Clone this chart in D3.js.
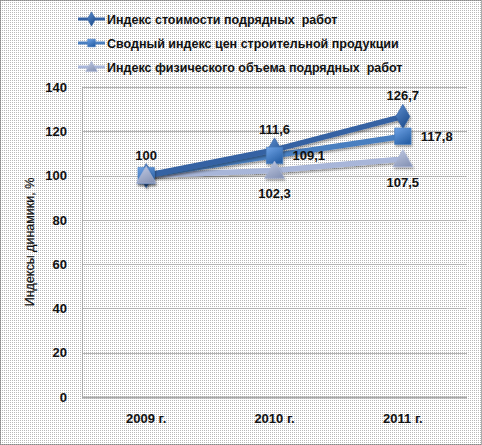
<!DOCTYPE html>
<html>
<head>
<meta charset="utf-8">
<script src="https://cdn.jsdelivr.net/npm/d3@7"></script>
<style>
  body { margin: 0; background: #fff; }
  svg text { font-family: "Liberation Sans", Arial, sans-serif; }
</style>
</head>
<body>
<div id="chart"></div>
<script>
// chart data
let years = ["2009 г.", "2010 г.", "2011 г."];
let costIndex = [100, 111.6, 126.7];
let priceIndex = [100, 109.1, 117.8];
let volumeIndex = [100, 102.3, 107.5];
let costLabels = ["100", "111,6", "126,7"];
let priceLabels = ["", "109,1", "117,8"];
let volumeLabels = ["", "102,3", "107,5"];
let yTicks = [0, 20, 40, 60, 80, 100, 120, 140];
let seriesNames = [
    "Индекс стоимости подрядных  работ",
    "Сводный индекс цен строительной продукции",
    "Индекс физического объема подрядных  работ"
];

let W = 482, H = 445;
let margin = {top: 87, right: 15, bottom: 48, left: 82};
let width = W - margin.left - margin.right;
let height = H - margin.top - margin.bottom;

let root = d3.select("#chart").append("svg")
    .attr("width", W)
    .attr("height", H);

let defs = root.append("defs");

// dotted background like the original picture
let pat = defs.append("pattern")
    .attr("id", "dots")
    .attr("width", 2).attr("height", 2)
    .attr("patternUnits", "userSpaceOnUse");
pat.append("rect").attr("width", 2).attr("height", 2).attr("fill", "#ffffff");
pat.append("rect").attr("width", 1).attr("height", 1).attr("fill", "#b8b8b8");

function grad(id, c1, c2) {
    let g = defs.append("linearGradient").attr("id", id)
        .attr("x1", 0).attr("y1", 0).attr("x2", 0.6).attr("y2", 1);
    g.append("stop").attr("offset", "0%").attr("stop-color", c1);
    g.append("stop").attr("offset", "100%").attr("stop-color", c2);
}
grad("g1", "#5f8fd0", "#1f4f8f");
grad("g2", "#6fa3e6", "#2a62a8");
grad("g3", "#c4cde6", "#8a97b8");

let shadow = defs.append("filter").attr("id", "shadow")
    .attr("x", "-10%").attr("y", "-10%").attr("width", "130%").attr("height", "150%");
shadow.append("feDropShadow")
    .attr("dx", 1).attr("dy", 2).attr("stdDeviation", 1.2)
    .attr("flood-color", "#000").attr("flood-opacity", 0.35);

root.append("rect")
    .attr("width", W).attr("height", H)
    .attr("fill", "url(#dots)");

root.append("rect")
    .attr("x", 0.5).attr("y", 0.5)
    .attr("width", W - 1).attr("height", H - 1)
    .attr("fill", "none")
    .attr("stroke", "#555")
    .attr("stroke-dasharray", "1,1");

let svg = root.append("g")
    .attr("transform", `translate(${margin.left}, ${margin.top})`);

// scales
let x = d3.scaleBand()
    .domain(years)
    .range([0, width]);

let y = d3.scaleLinear()
    .domain([0, 140])
    .range([height, 0]);

// gridlines
svg.append("g")
    .selectAll("line")
    .data(yTicks)
    .enter().append("line")
    .attr("x1", 0).attr("x2", width)
    .attr("y1", d => Math.round(y(d)) + 0.5)
    .attr("y2", d => Math.round(y(d)) + 0.5)
    .attr("stroke", d => d === 0 ? "#a8a8a8" : "#b5b5b5")
    .attr("stroke-width", d => d === 0 ? 2 : 1);

svg.append("line")
    .attr("x1", 0.5).attr("x2", 0.5)
    .attr("y1", 0).attr("y2", height)
    .attr("stroke", "#a8a8a8");

// axes
let yAxis = d3.axisLeft(y).tickValues(yTicks).tickSize(0).tickPadding(15);
let yAxisGroup = svg.append("g").attr("class", "y-axis").call(yAxis);
yAxisGroup.select(".domain").remove();
yAxisGroup.selectAll("text")
    .attr("font-size", 13).attr("font-weight", "bold").attr("fill", "#111");

let xAxis = d3.axisBottom(x).tickSize(0).tickPadding(17);
let xAxisGroup = svg.append("g").attr("class", "x-axis")
    .attr("transform", `translate(0, ${height})`)
    .call(xAxis);
xAxisGroup.select(".domain").remove();
xAxisGroup.selectAll("text")
    .attr("font-size", 13).attr("font-weight", "bold").attr("fill", "#111");

// y title
svg.append("text")
    .attr("transform", `translate(-48, ${height / 2}) rotate(-90)`)
    .attr("text-anchor", "middle")
    .attr("font-size", 12.5)
    .attr("fill", "#111")
    .attr("stroke", "#111")
    .attr("stroke-width", 0.2)
    .text("Индексы динамики, %");

let series = [
    {name: seriesNames[0], values: costIndex, labels: costLabels, color: "#3562a3", fill: "url(#g1)", marker: "diamond", pos: "above"},
    {name: seriesNames[1], values: priceIndex, labels: priceLabels, color: "#4a7fc0", fill: "url(#g2)", marker: "square", pos: "right"},
    {name: seriesNames[2], values: volumeIndex, labels: volumeLabels, color: "#a8b6d9", fill: "url(#g3)", marker: "triangle", pos: "below"}
];

let symbolOf = {
    diamond: d3.symbol().type(d3.symbolDiamond).size(170),
    square: d3.symbol().type(d3.symbolSquare).size(270),
    triangle: d3.symbol().type(d3.symbolTriangle).size(170)
};

let line = d3.line()
    .x((d, i) => x(years[i]) + x.bandwidth() / 2)
    .y(d => y(d));

// draw lines, bottom series first
series.slice().reverse().forEach(function(s) {
    svg.append("path")
        .datum(s.values)
        .attr("fill", "none")
        .attr("stroke", s.color)
        .attr("stroke-width", 5.5)
        .attr("stroke-linecap", "round")
        .attr("filter", "url(#shadow)")
        .attr("d", line);
});

series.forEach(function(s) {
    svg.append("g").selectAll("path")
        .data(s.values)
        .enter().append("path")
        .attr("transform", (d, i) => `translate(${x(years[i]) + x.bandwidth() / 2}, ${y(d) + (s.marker === "triangle" ? 2 : 0)})`)
        .attr("d", symbolOf[s.marker]())
        .attr("fill", s.fill)
        .attr("stroke", s.color)
        .attr("stroke-width", 0.6)
        .attr("filter", "url(#shadow)");
});

// data labels
series.forEach(function(s) {
    svg.append("g").selectAll("text")
        .data(s.values)
        .enter().append("text")
        .attr("x", (d, i) => {
            let cx = x(years[i]) + x.bandwidth() / 2;
            return s.pos === "right" ? cx + 18 : cx;
        })
        .attr("y", d => {
            if (s.pos === "above") return y(d) - 16;
            if (s.pos === "below") return y(d) + 28;
            return y(d) + 5;
        })
        .attr("text-anchor", s.pos === "right" ? "start" : "middle")
        .attr("font-size", 13)
        .attr("font-weight", "bold")
        .attr("fill", "#111")
        .text((d, i) => s.labels[i]);
});

// legend
let legend = root.append("g").attr("transform", "translate(78, 19)");
series.forEach(function(s, i) {
    let row = legend.append("g").attr("transform", `translate(0, ${i * 24})`);
    row.append("line")
        .attr("x1", 0).attr("x2", 27)
        .attr("stroke", s.color)
        .attr("stroke-width", 3);
    row.append("path")
        .attr("transform", `translate(13.5, ${s.marker === "triangle" ? 1 : 0})`)
        .attr("d", d3.symbol().type(s.marker === "diamond" ? d3.symbolDiamond : s.marker === "square" ? d3.symbolSquare : d3.symbolTriangle).size(60)())
        .attr("fill", s.fill)
        .attr("stroke", s.color)
        .attr("stroke-width", 0.5);
    row.append("text")
        .attr("x", 29)
        .attr("y", 4.5)
        .attr("font-size", 12.5)
        .attr("font-weight", "bold")
        .attr("fill", "#111")
        .attr("xml:space", "preserve")
        .text(s.name);
});
</script>
</body>
</html>
